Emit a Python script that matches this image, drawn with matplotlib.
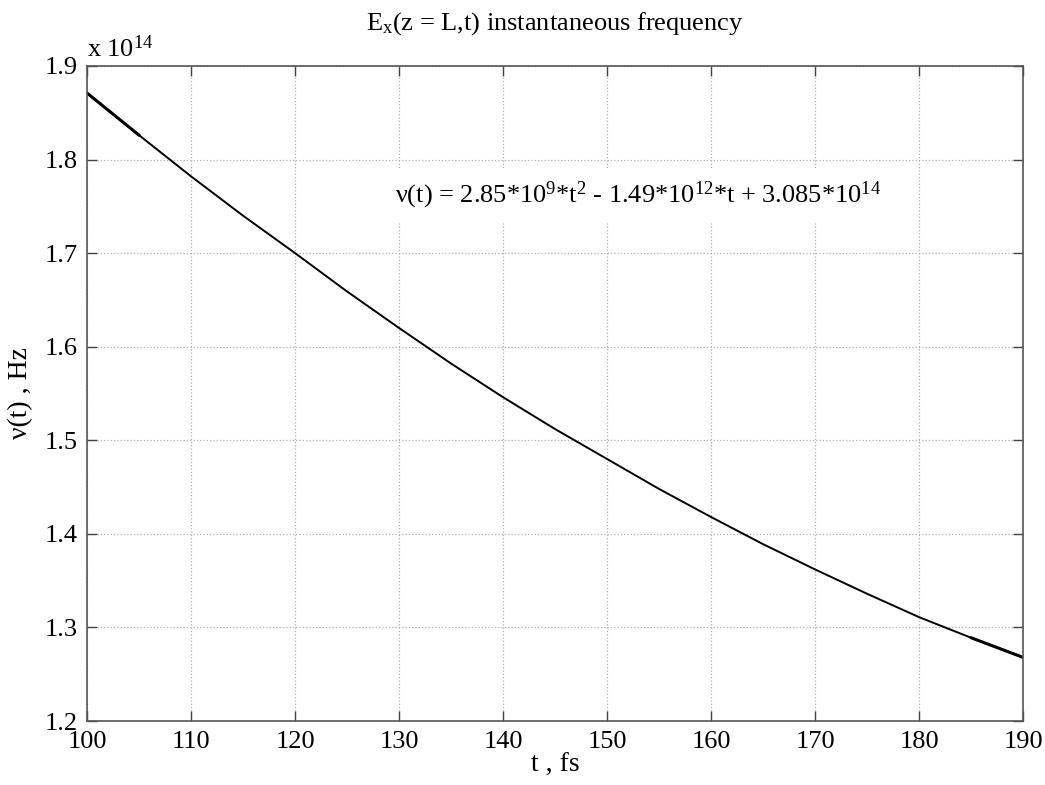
import matplotlib
matplotlib.use("Agg")
from matplotlib import pyplot as plt

plt.rcParams['font.family'] = ['Liberation Serif', 'DejaVu Serif']
plt.rcParams['mathtext.fontset'] = 'custom'
plt.rcParams['mathtext.rm'] = 'Liberation Serif'
plt.rcParams['mathtext.it'] = 'Liberation Serif:italic'

# tempo (fs) e frequencia instantanea (x 1e14 Hz)
t_fs = [100, 105, 110, 115, 120, 125, 130, 135, 140, 145,
        150, 155, 160, 165, 170, 175, 180, 185, 190]
nu = [1.871, 1.826, 1.782, 1.740, 1.700, 1.659, 1.620, 1.582, 1.546, 1.512,
      1.480, 1.448, 1.418, 1.389, 1.362, 1.336, 1.311, 1.289, 1.268]

xticks = [100, 110, 120, 130, 140, 150, 160, 170, 180, 190]
yticks = [1.2, 1.3, 1.4, 1.5, 1.6, 1.7, 1.8, 1.9]

fig = plt.figure(figsize=(10.45, 7.85), dpi=100)
ax = fig.add_axes([0.0833, 0.0815, 0.8957, 0.8345])

ax.plot(t_fs, nu, color='black', linewidth=1.4)
# pontas com ruido -> linha mais grossa
ax.plot(t_fs[:2], nu[:2], color='black', linewidth=2.2, solid_capstyle='round')
ax.plot(t_fs[-2:], nu[-2:], color='black', linewidth=2.2, solid_capstyle='round')

ax.set_xlim(100, 190)
ax.set_ylim(1.2, 1.9)
ax.set_xticks(xticks)
ax.set_yticks(yticks)
ax.set_xticklabels([str(v) for v in xticks])
ax.set_yticklabels([f"{v:.1f}" for v in yticks])
ax.tick_params(direction='in', length=7, width=1, top=True, right=True,
               labelsize=19, color='#444444')
ax.tick_params(axis='x', pad=7)
ax.tick_params(axis='y', pad=7)
for s in ax.spines.values():
    s.set_color('#555555')
    s.set_linewidth(1.2)

ax.grid(color='#b0b0b0', linestyle=':', linewidth=0.9)

ax.text(0.0, 1.006, r"x 10$^{14}$", transform=ax.transAxes, fontsize=19,
        ha='left', va='bottom')
ax.set_title(r"E$_{\mathrm{x}}$(z = L,t) instantaneous frequency", fontsize=19, pad=26)
ax.set_xlabel("t , fs", fontsize=20, labelpad=0)
ax.set_ylabel("ν(t) , Hz", fontsize=20, labelpad=8)

ax.text(129.6, 1.762,
        r"ν(t) = 2.85*10$^{9}$*t$^{2}$ - 1.49*10$^{12}$*t + 3.085*10$^{14}$",
        fontsize=19, ha='left', va='center',
        bbox=dict(facecolor='white', edgecolor='none', pad=8))

fig.savefig("out.png", dpi=100)
